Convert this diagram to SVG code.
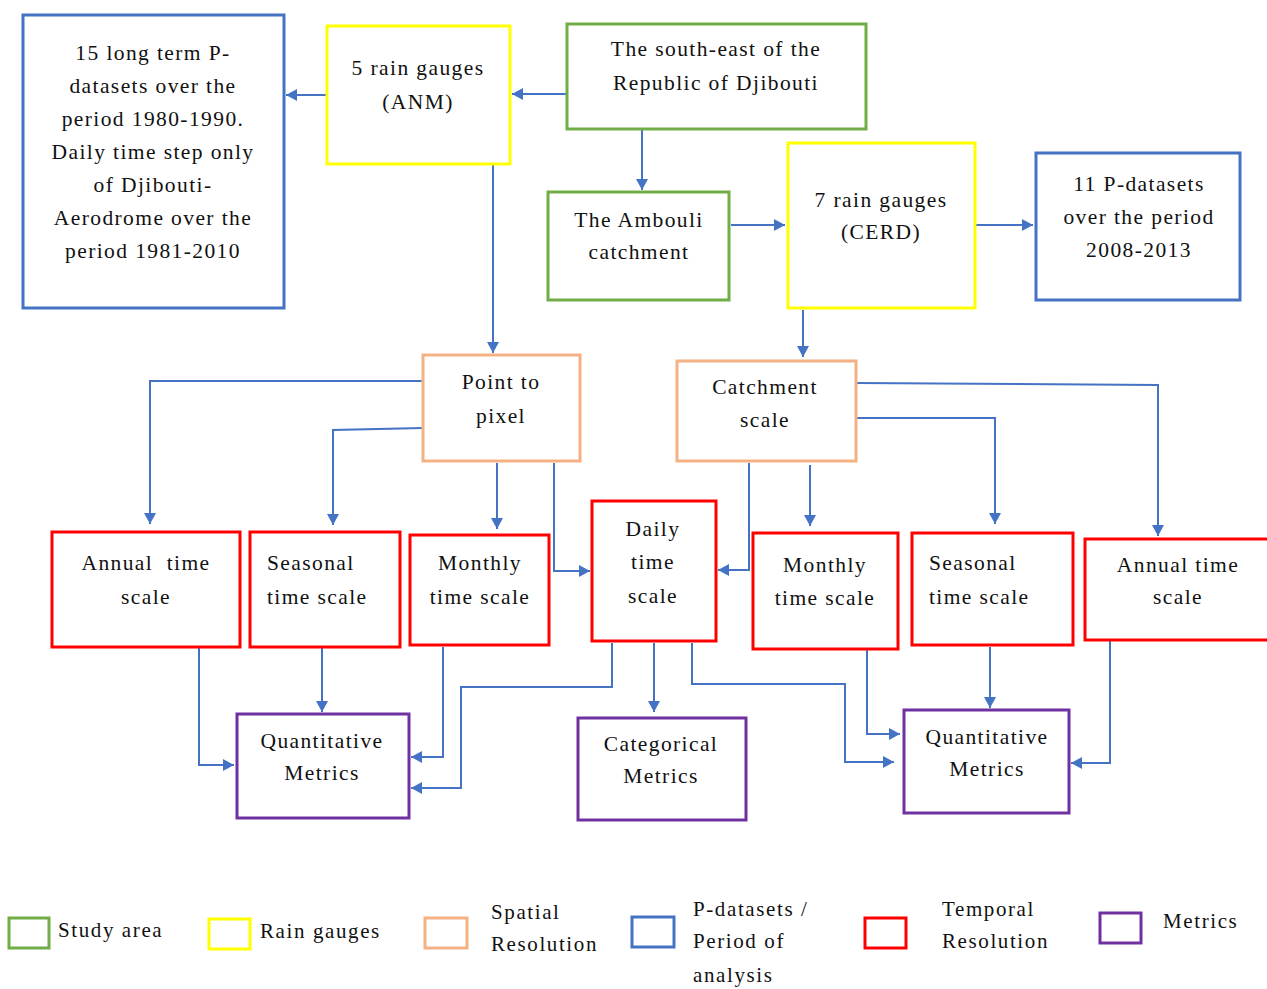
<svg xmlns="http://www.w3.org/2000/svg" width="1267" height="989" viewBox="0 0 1267 989">
<style>
.box{fill:#fff;stroke-width:3}
.bl{stroke:#4472C4}.ye{stroke:#FFFF00}.gr{stroke:#70AD47}.or{stroke:#F4B183}.rd{stroke:#FF0000}.pu{stroke:#7030A0}
text{font-family:"Liberation Serif","DejaVu Serif",serif;font-size:21.5px;letter-spacing:1.4px;fill:#111;white-space:pre}
.c{text-anchor:middle}
.lg{font-size:21px;letter-spacing:1.6px}
.cn path{fill:none;stroke:#4472C4;stroke-width:2;marker-end:url(#ah)}
</style>
<defs>
<marker id="ah" markerUnits="userSpaceOnUse" markerWidth="12" markerHeight="12" refX="11" refY="6" orient="auto">
<path d="M0,0 L11,6 L0,12 z" fill="#4472C4"/>
</marker>
</defs>
<rect width="1267" height="989" fill="#fff"/>
<g class="cn" id="connectors">
<path d="M327,95 H286"/>
<path d="M567,94 H512"/>
<path d="M642,129 V190"/>
<path d="M731,225 H785"/>
<path d="M976,225 H1033"/>
<path d="M493,164 V353"/>
<path d="M803,310 V357"/>
<path d="M423,381 H150 V524"/>
<path d="M423,428 L333,430 V525"/>
<path d="M497,463 V529"/>
<path d="M554,463 V571 H590"/>
<path d="M749,463 V570 H718"/>
<path d="M810,465 V526"/>
<path d="M856,418 H995 V524"/>
<path d="M856,383 L1158,385 V536"/>
<path d="M199,647 V765 H234"/>
<path d="M322,647 V712"/>
<path d="M443,647 V757 H411"/>
<path d="M612,643 V687 H461 V788 H411"/>
<path d="M654,643 V712"/>
<path d="M692,643 V684 H845 V762 H894"/>
<path d="M867,650 V734 H900"/>
<path d="M990,647 V708"/>
<path d="M1110,640 V763 H1071"/>
</g>
<g id="n_left_blue"><rect class="box bl" x="23" y="15" width="261" height="293"/>
<text class="c" x="153" y="60">15 long term P-</text>
<text class="c" x="153" y="93">datasets over the</text>
<text class="c" x="153" y="126">period 1980-1990.</text>
<text class="c" x="153" y="159">Daily time step only</text>
<text class="c" x="153" y="192">of Djibouti-</text>
<text class="c" x="153" y="225">Aerodrome over the</text>
<text class="c" x="153" y="258">period 1981-2010</text></g>
<g id="n_anm"><rect class="box ye" x="327" y="26" width="183" height="138"/>
<text class="c" x="418" y="75">5 rain gauges</text>
<text class="c" x="418" y="109">(ANM)</text></g>
<g id="n_se"><rect class="box gr" x="567" y="24" width="299" height="105"/>
<text class="c" x="716" y="56">The south-east of the</text>
<text class="c" x="716" y="90">Republic of Djibouti</text></g>
<g id="n_ambouli"><rect class="box gr" x="548" y="192" width="181" height="108"/>
<text class="c" x="639" y="227">The Ambouli</text>
<text class="c" x="639" y="259">catchment</text></g>
<g id="n_cerd"><rect class="box ye" x="788" y="143" width="187" height="165"/>
<text class="c" x="881" y="207">7 rain gauges</text>
<text class="c" x="881" y="239">(CERD)</text></g>
<g id="n_right_blue"><rect class="box bl" x="1036" y="153" width="204" height="147"/>
<text class="c" x="1139" y="191">11 P-datasets</text>
<text class="c" x="1139" y="224">over the period</text>
<text class="c" x="1139" y="257">2008-2013</text></g>
<g id="n_ptp"><rect class="box or" x="423" y="355" width="157" height="106"/>
<text class="c" x="501" y="389">Point to</text>
<text class="c" x="501" y="423">pixel</text></g>
<g id="n_catch"><rect class="box or" x="677" y="361" width="179" height="100"/>
<text class="c" x="765" y="394">Catchment</text>
<text class="c" x="765" y="427">scale</text></g>
<g id="n_ann_l"><rect class="box rd" x="52" y="532" width="188" height="115"/>
<text class="c" x="146" y="570">Annual  time</text>
<text class="c" x="146" y="604">scale</text></g>
<g id="n_sea_l"><rect class="box rd" x="250" y="532" width="150" height="115"/>
<text x="267" y="570">Seasonal</text>
<text x="267" y="604">time scale</text></g>
<g id="n_mon_l"><rect class="box rd" x="410" y="535" width="139" height="110"/>
<text class="c" x="480" y="570">Monthly</text>
<text class="c" x="480" y="604">time scale</text></g>
<g id="n_daily"><rect class="box rd" x="592" y="501" width="124" height="140"/>
<text class="c" x="653" y="536">Daily</text>
<text class="c" x="653" y="569">time</text>
<text class="c" x="653" y="603">scale</text></g>
<g id="n_mon_r"><rect class="box rd" x="753" y="533" width="145" height="116"/>
<text class="c" x="825" y="572">Monthly</text>
<text class="c" x="825" y="605">time scale</text></g>
<g id="n_sea_r"><rect class="box rd" x="912" y="533" width="161" height="112"/>
<text x="929" y="570">Seasonal</text>
<text x="929" y="604">time scale</text></g>
<g id="n_ann_r"><rect class="box rd" x="1085" y="539" width="186" height="101"/>
<text class="c" x="1178" y="572">Annual time</text>
<text class="c" x="1178" y="604">scale</text></g>
<g id="n_qm_l"><rect class="box pu" x="237" y="714" width="172" height="104"/>
<text class="c" x="322" y="748">Quantitative</text>
<text class="c" x="322" y="780">Metrics</text></g>
<g id="n_cat"><rect class="box pu" x="578" y="718" width="168" height="102"/>
<text class="c" x="661" y="751">Categorical</text>
<text class="c" x="661" y="783">Metrics</text></g>
<g id="n_qm_r"><rect class="box pu" x="904" y="710" width="165" height="103"/>
<text class="c" x="987" y="744">Quantitative</text>
<text class="c" x="987" y="776">Metrics</text></g>
<g id="legend">
<rect class="box gr" x="9" y="918" width="40" height="30"/>
<text class="lg" x="58" y="937">Study area</text>
<rect class="box ye" x="209" y="919" width="41" height="30"/>
<text class="lg" x="260" y="938">Rain gauges</text>
<rect class="box or" x="425" y="918" width="42" height="30"/>
<text class="lg" x="491" y="919">Spatial</text>
<text class="lg" x="491" y="951">Resolution</text>
<rect class="box bl" x="632" y="917" width="42" height="30"/>
<text class="lg" x="693" y="916">P-datasets /</text>
<text class="lg" x="693" y="948">Period of</text>
<text class="lg" x="693" y="982">analysis</text>
<rect class="box rd" x="865" y="918" width="41" height="30"/>
<text class="lg" x="942" y="916">Temporal</text>
<text class="lg" x="942" y="948">Resolution</text>
<rect class="box pu" x="1100" y="913" width="41" height="30"/>
<text class="lg" x="1163" y="928">Metrics</text>
</g>
</svg>
